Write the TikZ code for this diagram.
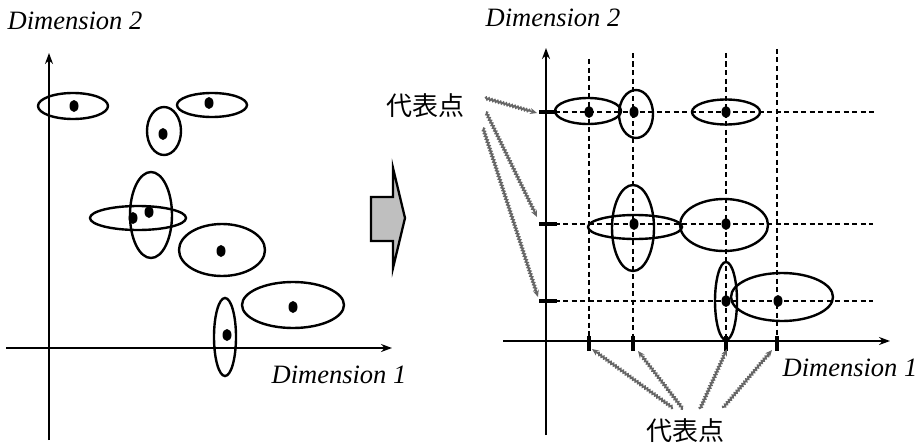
\documentclass[tikz,border=0pt]{standalone}
\usepackage{fontspec}
\setmainfont{Liberation Serif}
\newfontfamily\cjk{Noto Sans CJK JP}
\usetikzlibrary{arrows.meta,decorations.pathmorphing,shapes.geometric}
\begin{document}
\begin{tikzpicture}[x=1pt,y=-1pt,
  axis/.style={line width=2.3pt,-{Stealth[length=11pt,width=8pt]}},
  ell/.style={line width=2.4pt},
  dot/.style={fill=black,ellipse,inner sep=0pt,minimum width=9pt,minimum height=12pt},
  gridline/.style={line width=2.4pt,dash pattern=on 5pt off 3.5pt},
  tickmark/.style={line width=4pt},
  lbl/.style={font=\fontsize{26.5}{31}\selectfont\itshape,inner sep=0pt},
  jlbl/.style={font=\cjk\fontsize{26}{30}\selectfont,inner sep=0pt},
  ptr/.style={draw=gray!80!black,line width=1.8pt,decorate,
    decoration={snake,amplitude=1pt,segment length=3pt,post length=6pt},
    -{Stealth[length=7pt,width=6pt]}},
  blockarrow/.style={draw=black,line width=2.3pt,fill=gray!50}
]
\useasboundingbox (0,0) rectangle (920,444);

% ---------- left panel ----------
\node[lbl] (d2L) at (75,21) {Dimension 2};
\node[lbl] (d1L) at (339,375) {Dimension 1};
\coordinate (yLb) at (49,440);
\coordinate (yLt) at (49,53);
\coordinate (xLl) at (6,348);
\coordinate (xLr) at (392,348);
\draw[axis] (yLb) -- (yLt);
\draw[axis] (xLl) -- (xLr);

\draw[ell] (73,106) ellipse [x radius=35pt,y radius=13pt];
\draw[ell] (212,105) ellipse [x radius=35pt,y radius=12pt];
\draw[ell] (164,131) ellipse [x radius=17pt,y radius=24pt];
\draw[ell] (151,215) ellipse [x radius=21pt,y radius=43pt];
\draw[ell] (138,218) ellipse [x radius=48pt,y radius=12pt];
\draw[ell] (222,250) ellipse [x radius=43pt,y radius=26pt];
\draw[ell] (293,305) ellipse [x radius=51pt,y radius=23pt];
\draw[ell] (225,337) ellipse [x radius=11pt,y radius=39pt];

\node[dot] (p1) at (74,106) {};
\node[dot] (p2) at (209,103) {};
\node[dot] (p3) at (163,134) {};
\node[dot] (p4) at (133,218) {};
\node[dot] (p5) at (149,212) {};
\node[dot] (p6) at (221,251) {};
\node[dot] (p7) at (293,307) {};
\node[dot] (p8) at (227,335) {};

% ---------- block arrow ----------
\draw[blockarrow] (371,197) -- (393,197) -- (393,168) -- (405,218)
  -- (393,268) -- (393,241) -- (371,241) -- cycle;

% ---------- right panel ----------
\node[lbl] (d2R) at (553,18) {Dimension 2};
\node[lbl] (d1R) at (850,368) {Dimension 1};

% grid
\draw[gridline] (589,59) -- (589,341);
\draw[gridline] (633,53) -- (633,341);
\draw[gridline] (726,53) -- (726,341);
\draw[gridline] (777,49) -- (777,341);
\draw[gridline] (546,112) -- (877,112);
\draw[gridline] (546,224) -- (873,224);
\draw[gridline] (546,301) -- (873,301);

\coordinate (yRb) at (546,435);
\coordinate (yRt) at (546,48);
\coordinate (xRl) at (503,341);
\coordinate (xRr) at (890,341);
\draw[axis] (yRb) -- (yRt);
\draw[axis] (xRl) -- (xRr);

% ticks
\draw[tickmark] (539,112) -- (557,112);
\draw[tickmark] (539,224) -- (557,224);
\draw[tickmark] (539,301) -- (557,301);
\draw[tickmark] (589,336) -- (589,351);
\draw[tickmark] (633,336) -- (633,351);
\draw[tickmark] (726,336) -- (726,351);
\draw[tickmark] (777,336) -- (777,351);

\draw[ell] (588,111) ellipse [x radius=33pt,y radius=13pt];
\draw[ell] (636,114) ellipse [x radius=17pt,y radius=24pt];
\draw[ell] (726,112) ellipse [x radius=34pt,y radius=12.5pt];
\draw[ell] (633,228) ellipse [x radius=21pt,y radius=43pt];
\draw[ell] (635,227) ellipse [x radius=47pt,y radius=12pt];
\draw[ell] (724,225) ellipse [x radius=44pt,y radius=26pt];
\draw[ell] (726,301) ellipse [x radius=11pt,y radius=39pt];
\draw[ell] (782,297) ellipse [x radius=51pt,y radius=24pt];

\node[dot] (q1) at (589,112) {};
\node[dot] (q2) at (634,112) {};
\node[dot] (q3) at (726,112) {};
\node[dot] (q4) at (634,224) {};
\node[dot] (q5) at (726,224) {};
\node[dot] (q6) at (726,301) {};
\node[dot] (q7) at (778,301) {};

% labels and pointers
\node[jlbl] (repA) at (425,106) {代表点};
\node[jlbl] (repB) at (685,431) {代表点};

\coordinate (sA1) at (485,98);
\coordinate (sA2) at (486,112);
\coordinate (sA3) at (483,128);
\coordinate (eA1) at (537,113);
\coordinate (eA2) at (537,217);
\coordinate (eA3) at (538,297);
\draw[ptr] (sA1) -- (eA1);
\draw[ptr] (sA2) -- (eA2);
\draw[ptr] (sA3) -- (eA3);

\coordinate (sB1) at (673,408);
\coordinate (sB2) at (683,409);
\coordinate (sB3) at (700,409);
\coordinate (sB4) at (723,408);
\coordinate (eB1) at (592,349);
\coordinate (eB2) at (638,351);
\coordinate (eB3) at (727,349);
\coordinate (eB4) at (772,350);
\draw[ptr] (sB1) -- (eB1);
\draw[ptr] (sB2) -- (eB2);
\draw[ptr] (sB3) -- (eB3);
\draw[ptr] (sB4) -- (eB4);
\end{tikzpicture}
\end{document}
